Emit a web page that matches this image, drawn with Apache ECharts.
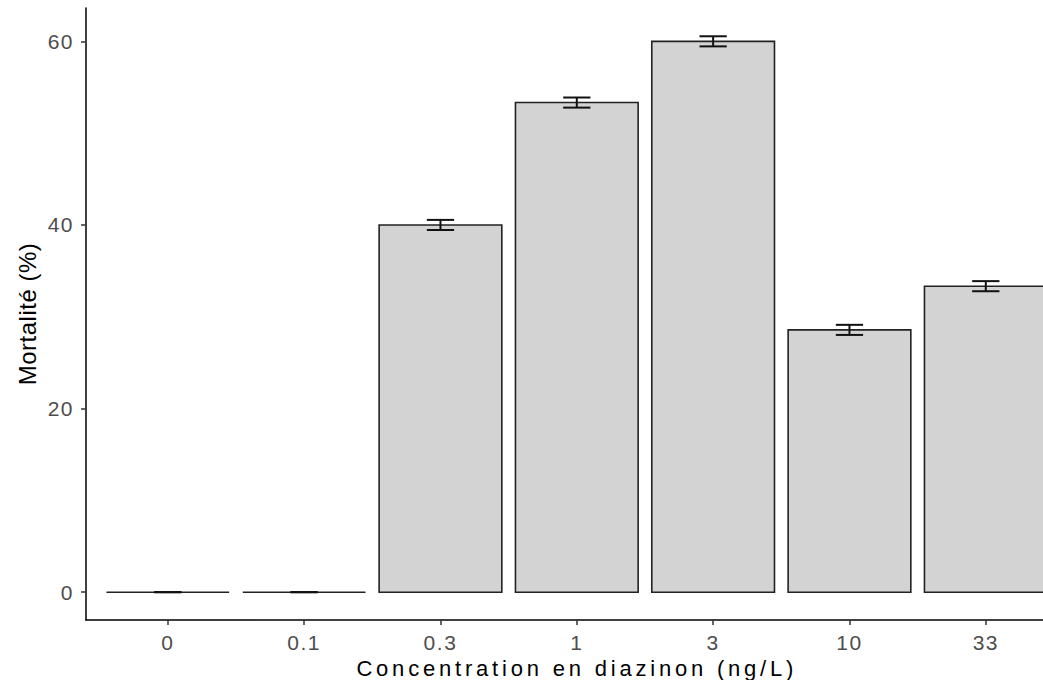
<!DOCTYPE html>
<html>
<head>
<meta charset="utf-8">
<script src="https://cdn.jsdelivr.net/npm/echarts@6/dist/echarts.min.js"></script>
<style>
html,body{margin:0;padding:0;background:#fff;}
#chart{width:1043px;height:680px;}
#chart text[style*="21px"]{letter-spacing:1.5px;}
#chart text[style*="22px"]{letter-spacing:3.8px;}
#chart text[style*="24px"]{letter-spacing:0.5px;}
</style>
</head>
<body>
<div id="chart"></div>
<script>
// Data
const categories = ['0', '0.1', '0.3', '1', '3', '10', '33'];
const mortality = [0, 0, 40, 53.33, 60, 28.57, 33.33];
const errors = [0, 0, 0.55, 0.55, 0.55, 0.55, 0.55];
const yTicks = [0, 20, 40, 60];

const chart = echarts.init(document.getElementById('chart'), null, { renderer: 'svg' });
const idx = categories.map((c, i) => i);

const barData = mortality.map((v, i) => [i, v]);
const errData = mortality.map((v, i) => [i, v - errors[i], v + errors[i]]);

const FONT = '"Liberation Sans", Arial, Helvetica, sans-serif';

chart.setOption({
  animation: false,
  backgroundColor: '#ffffff',
  grid: { left: 86, right: -24.6, top: 8, bottom: 60, containLabel: false, outerBoundsMode: 'none' },
  xAxis: {
    type: 'value',
    min: -0.6,
    max: 6.6,
    name: 'Concentration en diazinon (ng/L)',
    nameLocation: 'middle',
    nameGap: 28,
    nameTextStyle: { color: '#000', fontSize: 22, fontFamily: FONT },
    axisLine: { show: true, onZero: false, lineStyle: { color: '#000', width: 1.5 } },
    axisTick: { show: true, length: 5, customValues: idx, lineStyle: { color: '#333', width: 1.5 } },
    axisLabel: {
      customValues: idx,
      margin: 12,
      color: '#4D4D4D',
      fontSize: 21,
      fontFamily: FONT,
      formatter: v => categories[Math.round(v)]
    },
    splitLine: { show: false }
  },
  yAxis: {
    type: 'value',
    min: -3.03,
    max: 63.63,
    name: 'Mortalité (%)',
    nameLocation: 'middle',
    nameGap: 44,
    nameTextStyle: { color: '#000', fontSize: 24, fontFamily: FONT },
    axisLine: { show: true, onZero: false, lineStyle: { color: '#000', width: 1.5 } },
    axisTick: { show: true, length: 5, customValues: yTicks, lineStyle: { color: '#333', width: 1.5 } },
    axisLabel: {
      customValues: yTicks,
      margin: 12,
      color: '#4D4D4D',
      fontSize: 21,
      fontFamily: FONT
    },
    splitLine: { show: false }
  },
  series: [
    {
      type: 'custom',
      name: 'bars',
      data: barData,
      encode: { x: 0, y: 1 },
      renderItem: function (params, api) {
        const x = api.value(0), y = api.value(1);
        const p0 = api.coord([x, 0]);
        const p1 = api.coord([x, y]);
        const w = api.size([0.9, 0])[0];
        return {
          type: 'rect',
          shape: { x: p0[0] - w / 2, y: p1[1], width: w, height: p0[1] - p1[1] },
          style: { fill: '#D3D3D3', stroke: '#222', lineWidth: 1.6 }
        };
      },
      z: 2
    },
    {
      type: 'custom',
      name: 'errors',
      data: errData,
      encode: { x: 0, y: [1, 2] },
      renderItem: function (params, api) {
        const x = api.value(0), lo = api.value(1), hi = api.value(2);
        const pl = api.coord([x, lo]);
        const ph = api.coord([x, hi]);
        const hw = api.size([0.2, 0])[0] / 2;
        const st = { stroke: '#111', lineWidth: 2 };
        return {
          type: 'group',
          children: [
            { type: 'line', shape: { x1: pl[0], y1: pl[1], x2: ph[0], y2: ph[1] }, style: st },
            { type: 'line', shape: { x1: pl[0] - hw, y1: pl[1], x2: pl[0] + hw, y2: pl[1] }, style: st },
            { type: 'line', shape: { x1: ph[0] - hw, y1: ph[1], x2: ph[0] + hw, y2: ph[1] }, style: st }
          ]
        };
      },
      z: 3
    }
  ]
});
</script>
</body>
</html>
